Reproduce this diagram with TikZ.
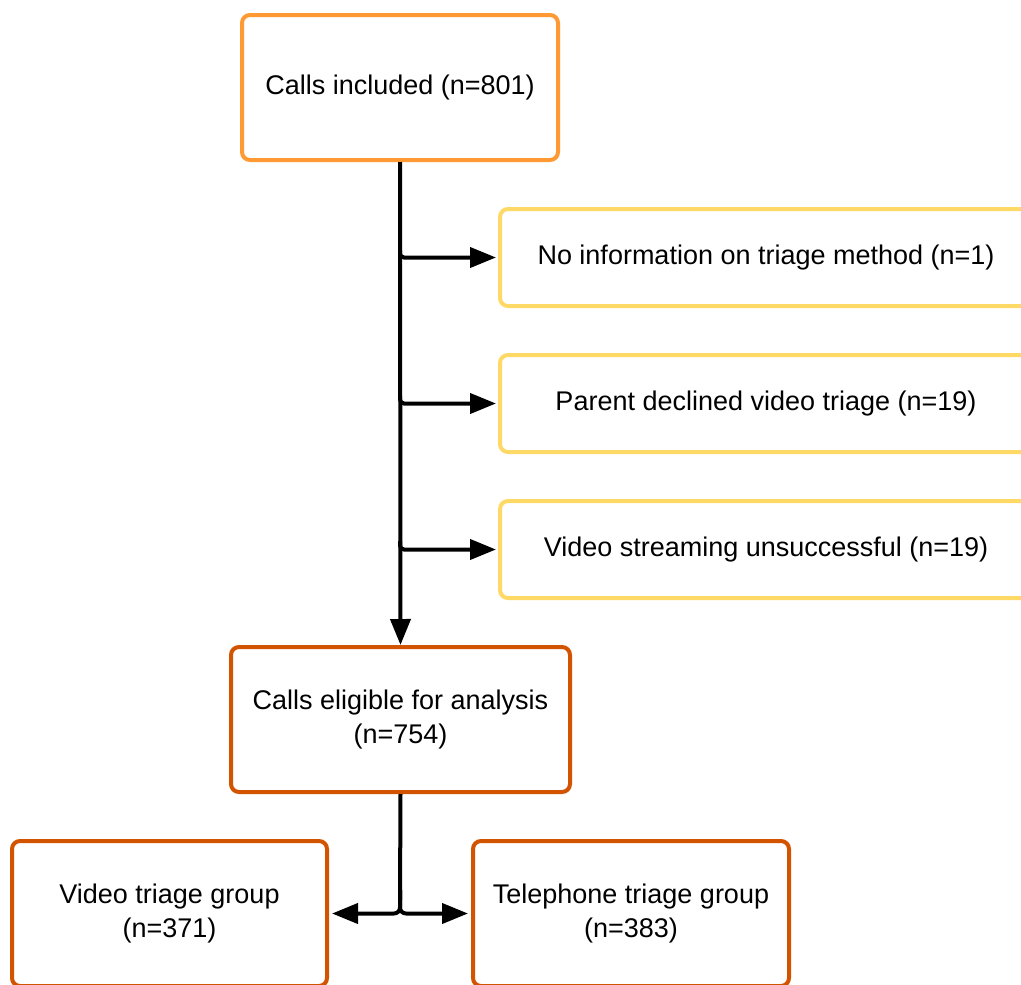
\documentclass[tikz,border=0pt]{standalone}
\usepackage{fontspec}
\setmainfont{Liberation Sans}
\usetikzlibrary{arrows.meta}
\definecolor{topOrange}{RGB}{255,153,51}
\definecolor{exclYellow}{RGB}{255,217,102}
\definecolor{darkOrange}{RGB}{211,84,0}
\begin{document}
\begin{tikzpicture}[x=1pt,y=1pt,
  box/.style={draw, line width=4pt, rounded corners=8pt, fill=white,
    align=center, inner sep=0pt,
    font=\fontsize{27}{34}\selectfont},
  mainbox/.style={box, draw=topOrange, minimum width=316pt, minimum height=145pt},
  exclbox/.style={box, draw=exclYellow, minimum width=532pt, minimum height=97pt},
  groupbox/.style={box, draw=darkOrange, minimum height=145pt},
  flow/.style={line width=4pt, -{Triangle[length=26pt,width=20pt]}},
  trunk/.style={line width=4pt}]
\useasboundingbox (0,0) rectangle (1021,-985);
\clip (0,0) rectangle (1021,-985);

% boxes
\node[mainbox] (incl) at (400,-87.5) {Calls included (n=801)};
\node[exclbox, anchor=west] (noinfo) at (498,-257.5) {No information on triage method (n=1)};
\node[exclbox, anchor=west] (declined) at (498,-403.5) {Parent declined video triage (n=19)};
\node[exclbox, anchor=west] (stream) at (498,-549.5) {Video streaming unsuccessful (n=19)};
\node[groupbox, minimum width=339pt] (elig) at (400.5,-719.5) {Calls eligible for analysis\\(n=754)};
\node[groupbox, minimum width=315pt] (video) at (169.5,-913.5) {Video triage group\\(n=371)};
\node[groupbox, minimum width=316pt] (phone) at (631,-913.5) {Telephone triage group\\(n=383)};

% main flow with exclusions branching off
\draw[flow] (incl.south) -- (elig.north);
\draw[flow, rounded corners=4pt, shorten >=2pt] (400,-250) |- (noinfo.west);
\draw[flow, rounded corners=4pt, shorten >=2pt] (400,-396) |- (declined.west);
\draw[flow, rounded corners=4pt, shorten >=2pt] (400,-541) |- (stream.west);

% split into the two triage groups
\coordinate (split) at (400,-912);
\draw[trunk] (elig.south) -- (400,-900);
\draw[flow, rounded corners=6pt, shorten >=3pt] (400,-890) |- (video.east);
\draw[flow, rounded corners=6pt, shorten >=3pt] (400,-890) |- (phone.west);
\end{tikzpicture}
\end{document}
